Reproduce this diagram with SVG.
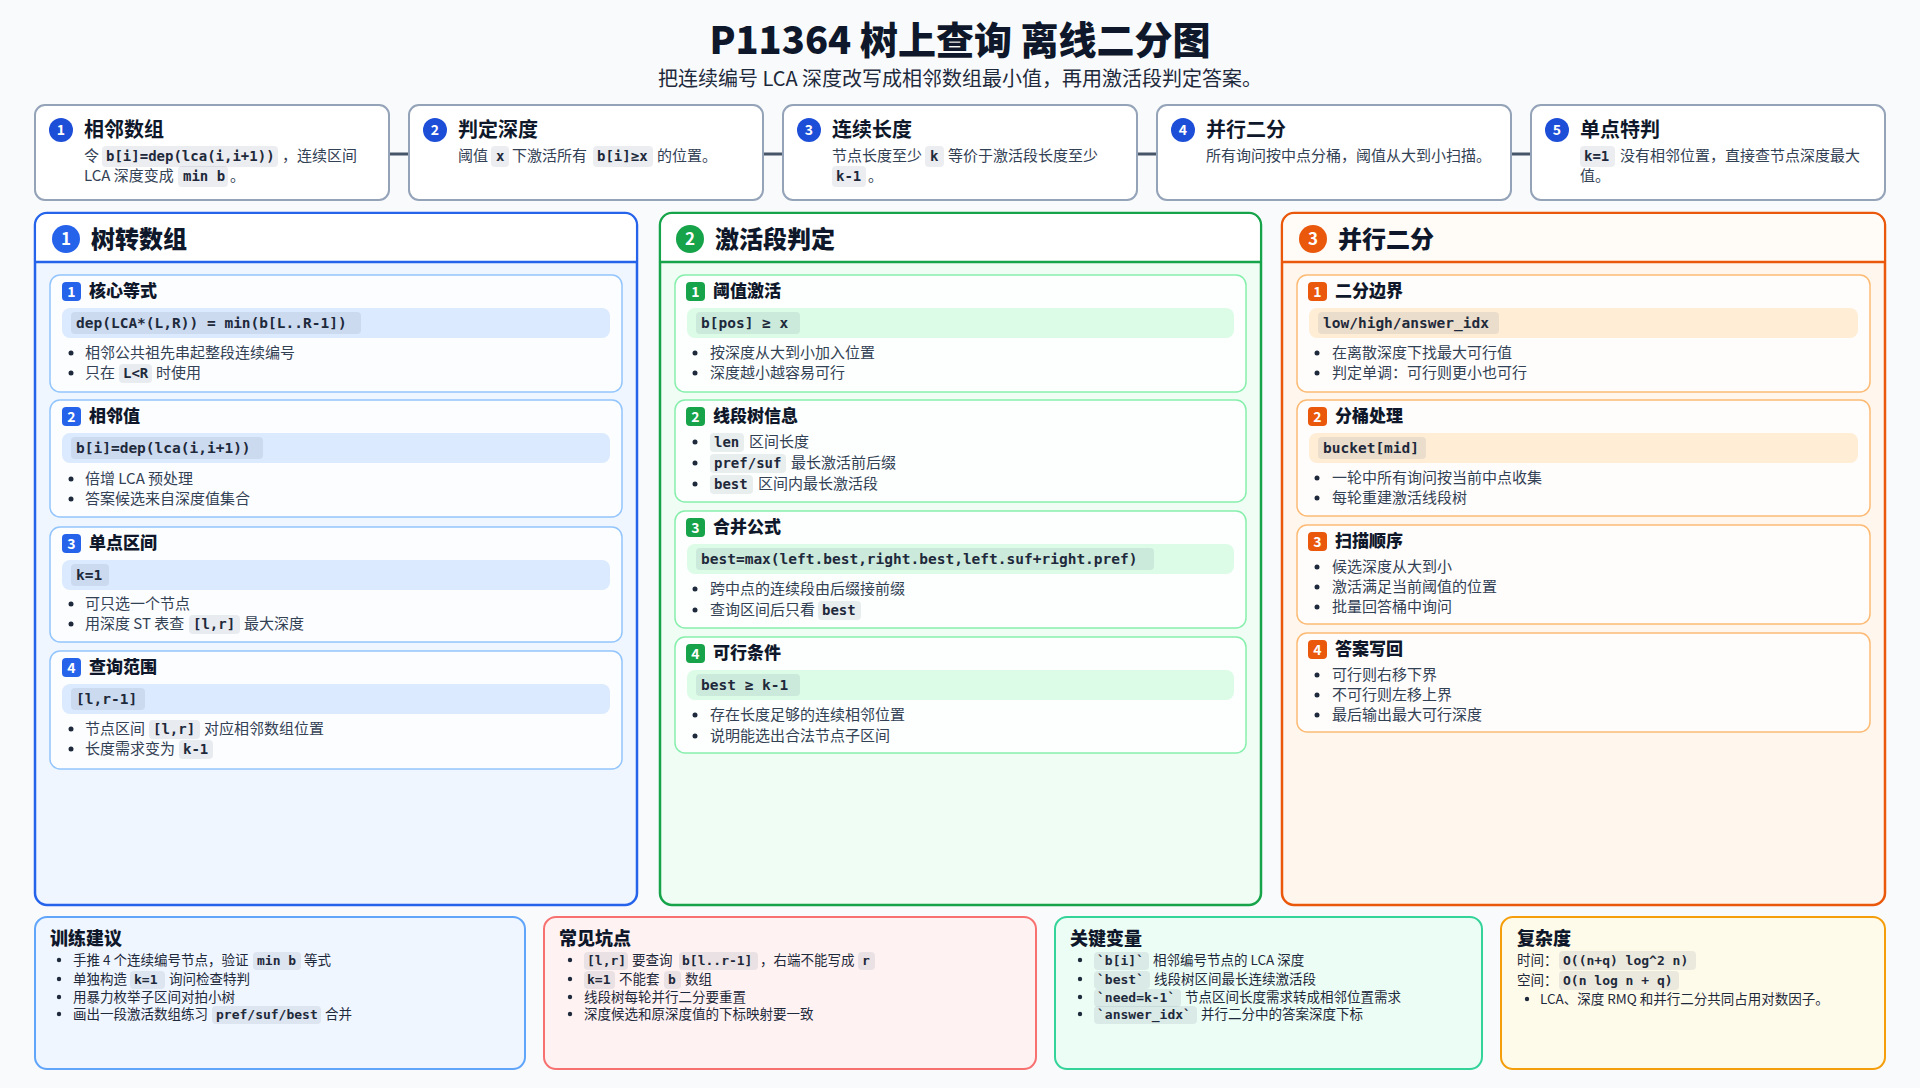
<svg xmlns="http://www.w3.org/2000/svg" width="1920" height="1088" viewBox="0 0 1920 1088">
<style>
text{font-family:"Noto Sans CJK SC","Noto Sans",sans-serif;fill:#1e293b}
.h1{font-size:38px;font-weight:800;fill:#0f172a}
.sub{font-size:20px;fill:#1e293b}
.ct{font-size:20px;font-weight:700;fill:#0f172a}
.b{font-size:15px;fill:#334155}
.m{font-family:"DejaVu Sans Mono","Liberation Mono",monospace;font-size:14px;font-weight:bold;fill:#1e293b}
.mb{font-family:"DejaVu Sans Mono","Liberation Mono",monospace;font-size:14.5px;font-weight:bold;fill:#1e293b}
.ms{font-family:"DejaVu Sans Mono","Liberation Mono",monospace;font-size:13px;font-weight:bold;fill:#1e293b}
.chip{fill:rgba(100,116,139,0.13)}
.num{font-size:14px;font-weight:700;fill:#fff;text-anchor:middle}
.pt{font-size:24px;font-weight:800;fill:#0f172a}
.st{font-size:17px;font-weight:800;fill:#0f172a}
.bt{font-size:18px;font-weight:800;fill:#0f172a}
.s{font-size:13.5px;fill:#1e293b}
.top{fill:#fff;stroke:#94a3b8;stroke-width:2}
.dot{fill:#1e293b}
</style>
<rect width="1920" height="1088" fill="#f8fafc"/>
<text class="h1" x="960" y="54" text-anchor="middle">P11364 树上查询 离线二分图</text>
<text class="sub" x="960" y="86" text-anchor="middle">把连续编号 LCA 深度改写成相邻数组最小值，再用激活段判定答案。</text>

<g id="connectors" stroke="#475569" stroke-width="3">
<line x1="389" y1="154" x2="409" y2="154"/>
<line x1="763" y1="154" x2="783" y2="154"/>
<line x1="1137" y1="154" x2="1157" y2="154"/>
<line x1="1511" y1="154" x2="1531" y2="154"/>
</g>

<g id="step1">
<rect class="top" x="35" y="105" width="354" height="95" rx="10"/>
<circle cx="61" cy="130" r="12" fill="#1d4ed8"/><text class="num" x="61" y="135">1</text>
<text class="ct" x="84" y="137">相邻数组</text>
<text class="b" x="84" y="161">令</text>
<rect class="chip" x="102" y="146" width="176" height="21" rx="4"/><text class="m" x="106" y="161">b[i]=dep(lca(i,i+1))</text>
<text class="b" x="282" y="161">，连续区间</text>
<text class="b" x="84" y="181">LCA 深度变成</text>
<rect class="chip" x="178" y="166" width="50" height="21" rx="4"/><text class="m" x="183" y="181">min b</text>
<text class="b" x="230" y="181">。</text>
</g>
<g id="step2">
<rect class="top" x="409" y="105" width="354" height="95" rx="10"/>
<circle cx="435" cy="130" r="12" fill="#1d4ed8"/><text class="num" x="435" y="135">2</text>
<text class="ct" x="458" y="137">判定深度</text>
<text class="b" x="458" y="161">阈值</text>
<rect class="chip" x="491" y="146" width="18" height="21" rx="4"/><text class="m" x="496" y="161">x</text>
<text class="b" x="512" y="161">下激活所有</text>
<rect class="chip" x="593" y="146" width="60" height="21" rx="4"/><text class="m" x="597" y="161">b[i]≥x</text>
<text class="b" x="657" y="161">的位置。</text>
</g>
<g id="step3">
<rect class="top" x="783" y="105" width="354" height="95" rx="10"/>
<circle cx="809" cy="130" r="12" fill="#1d4ed8"/><text class="num" x="809" y="135">3</text>
<text class="ct" x="832" y="137">连续长度</text>
<text class="b" x="832" y="161">节点长度至少</text>
<rect class="chip" x="925" y="146" width="19" height="21" rx="4"/><text class="m" x="930" y="161">k</text>
<text class="b" x="948" y="161">等价于激活段长度至少</text>
<rect class="chip" x="832" y="166" width="34" height="21" rx="4"/><text class="m" x="836" y="181">k-1</text>
<text class="b" x="868" y="181">。</text>
</g>
<g id="step4">
<rect class="top" x="1157" y="105" width="354" height="95" rx="10"/>
<circle cx="1183" cy="130" r="12" fill="#1d4ed8"/><text class="num" x="1183" y="135">4</text>
<text class="ct" x="1206" y="137">并行二分</text>
<text class="b" x="1206" y="161">所有询问按中点分桶，阈值从大到小扫描。</text>
</g>
<g id="step5">
<rect class="top" x="1531" y="105" width="354" height="95" rx="10"/>
<circle cx="1557" cy="130" r="12" fill="#1d4ed8"/><text class="num" x="1557" y="135">5</text>
<text class="ct" x="1580" y="137">单点特判</text>
<rect class="chip" x="1580" y="146" width="35" height="21" rx="4"/><text class="m" x="1584" y="161">k=1</text>
<text class="b" x="1620" y="161">没有相邻位置，直接查节点深度最大</text>
<text class="b" x="1580" y="181">值。</text>
</g>

<!-- Panel 1 -->
<g id="panel1">
<rect x="35" y="213" width="602" height="692" rx="12" fill="#eff6ff" stroke="#2563eb" stroke-width="2.5"/>
<path d="M36.2 262 V225 a11 11 0 0 1 11 -11 H624.8 a11 11 0 0 1 11 11 V262 Z" fill="#fff"/>
<line x1="35" y1="262" x2="637" y2="262" stroke="#2563eb" stroke-width="2.5"/>
<circle cx="66" cy="239" r="14" fill="#2563eb"/><text class="num" x="66" y="245" style="font-size:17px">1</text>
<text class="pt" x="91" y="248">树转数组</text>
<g fill="#fcfdff" stroke="#93c5fd" stroke-width="1.5">
<rect x="50" y="275" width="572" height="117" rx="10"/>
<rect x="50" y="400" width="572" height="117" rx="10"/>
<rect x="50" y="527" width="572" height="115" rx="10"/>
<rect x="50" y="651" width="572" height="118" rx="10"/>
</g>
<g fill="#dbeafe">
<rect x="62" y="308" width="548" height="30" rx="8"/>
<rect x="62" y="433" width="548" height="30" rx="8"/>
<rect x="62" y="560" width="548" height="30" rx="8"/>
<rect x="62" y="684" width="548" height="30" rx="8"/>
</g>
<g fill="#2563eb">
<rect x="62" y="282" width="19" height="19" rx="4"/>
<rect x="62" y="407" width="19" height="19" rx="4"/>
<rect x="62" y="534" width="19" height="19" rx="4"/>
<rect x="62" y="658" width="19" height="19" rx="4"/>
</g>
<text class="num" x="71.5" y="297">1</text><text class="num" x="71.5" y="422">2</text><text class="num" x="71.5" y="549">3</text><text class="num" x="71.5" y="673">4</text>
<text class="st" x="89" y="297">核心等式</text>
<text class="st" x="89" y="422">相邻值</text>
<text class="st" x="89" y="549">单点区间</text>
<text class="st" x="89" y="673">查询范围</text>
<rect class="chip" x="71" y="312" width="290" height="22" rx="4"/><text class="mb" x="76" y="328">dep(LCA*(L,R)) = min(b[L..R-1])</text>
<rect class="chip" x="71" y="437" width="192" height="22" rx="4"/><text class="mb" x="76" y="453">b[i]=dep(lca(i,i+1))</text>
<rect class="chip" x="71" y="564" width="38" height="22" rx="4"/><text class="mb" x="76" y="580">k=1</text>
<rect class="chip" x="71" y="688" width="74" height="22" rx="4"/><text class="mb" x="76" y="704">[l,r-1]</text>
<g class="dot"><circle cx="71" cy="353" r="2.5"/><circle cx="71" cy="373" r="2.5"/><circle cx="71" cy="479" r="2.5"/><circle cx="71" cy="499" r="2.5"/><circle cx="71" cy="604" r="2.5"/><circle cx="71" cy="624" r="2.5"/><circle cx="71" cy="729" r="2.5"/><circle cx="71" cy="749" r="2.5"/></g>
<text class="b" x="85" y="358">相邻公共祖先串起整段连续编号</text>
<text class="b" x="85" y="378">只在</text><rect class="chip" x="119" y="364" width="33" height="19" rx="4"/><text class="m" x="123" y="378">L&lt;R</text><text class="b" x="156" y="378">时使用</text>
<text class="b" x="85" y="484">倍增 LCA 预处理</text>
<text class="b" x="85" y="504">答案候选来自深度值集合</text>
<text class="b" x="85" y="609">可只选一个节点</text>
<text class="b" x="85" y="629">用深度 ST 表查</text><rect class="chip" x="189" y="615" width="51" height="19" rx="4"/><text class="m" x="193" y="629">[l,r]</text><text class="b" x="244" y="629">最大深度</text>
<text class="b" x="85" y="734">节点区间</text><rect class="chip" x="149" y="720" width="51" height="19" rx="4"/><text class="m" x="153" y="734">[l,r]</text><text class="b" x="204" y="734">对应相邻数组位置</text>
<text class="b" x="85" y="754">长度需求变为</text><rect class="chip" x="179" y="740" width="34" height="19" rx="4"/><text class="m" x="183" y="754">k-1</text>
</g>

<!-- Panel 2 -->
<g id="panel2">
<rect x="660" y="213" width="601" height="692" rx="12" fill="#f0fdf4" stroke="#16a34a" stroke-width="2.5"/>
<path d="M661.2 262 V225 a11 11 0 0 1 11 -11 H1248.8 a11 11 0 0 1 11 11 V262 Z" fill="#fff"/>
<line x1="660" y1="262" x2="1261" y2="262" stroke="#16a34a" stroke-width="2.5"/>
<circle cx="690" cy="239" r="14" fill="#16a34a"/><text class="num" x="690" y="245" style="font-size:17px">2</text>
<text class="pt" x="715" y="248">激活段判定</text>
<g fill="#fcfffd" stroke="#86efac" stroke-width="1.5">
<rect x="675" y="275" width="571" height="117" rx="10"/>
<rect x="675" y="400" width="571" height="102" rx="10"/>
<rect x="675" y="511" width="571" height="117" rx="10"/>
<rect x="675" y="637" width="571" height="116" rx="10"/>
</g>
<g fill="#dcfce7">
<rect x="687" y="308" width="547" height="30" rx="8"/>
<rect x="687" y="544" width="547" height="30" rx="8"/>
<rect x="687" y="670" width="547" height="30" rx="8"/>
</g>
<g fill="#16a34a">
<rect x="686" y="282" width="19" height="19" rx="4"/>
<rect x="686" y="407" width="19" height="19" rx="4"/>
<rect x="686" y="518" width="19" height="19" rx="4"/>
<rect x="686" y="644" width="19" height="19" rx="4"/>
</g>
<text class="num" x="695.5" y="297">1</text><text class="num" x="695.5" y="422">2</text><text class="num" x="695.5" y="533">3</text><text class="num" x="695.5" y="659">4</text>
<text class="st" x="713" y="297">阈值激活</text>
<text class="st" x="713" y="422">线段树信息</text>
<text class="st" x="713" y="533">合并公式</text>
<text class="st" x="713" y="659">可行条件</text>
<rect class="chip" x="696" y="312" width="104" height="22" rx="4"/><text class="mb" x="701" y="328">b[pos] ≥ x</text>
<rect class="chip" x="696" y="548" width="458" height="22" rx="4"/><text class="mb" x="701" y="564">best=max(left.best,right.best,left.suf+right.pref)</text>
<rect class="chip" x="696" y="674" width="104" height="22" rx="4"/><text class="mb" x="701" y="690">best ≥ k-1</text>
<g class="dot"><circle cx="695" cy="353" r="2.5"/><circle cx="695" cy="373" r="2.5"/><circle cx="695" cy="442" r="2.5"/><circle cx="695" cy="463" r="2.5"/><circle cx="695" cy="484" r="2.5"/><circle cx="695" cy="589" r="2.5"/><circle cx="695" cy="610" r="2.5"/><circle cx="695" cy="715" r="2.5"/><circle cx="695" cy="736" r="2.5"/></g>
<text class="b" x="710" y="358">按深度从大到小加入位置</text>
<text class="b" x="710" y="378">深度越小越容易可行</text>
<rect class="chip" x="710" y="433" width="34" height="19" rx="4"/><text class="m" x="714" y="447">len</text><text class="b" x="749" y="447">区间长度</text>
<rect class="chip" x="710" y="454" width="76" height="19" rx="4"/><text class="m" x="714" y="468">pref/suf</text><text class="b" x="791" y="468">最长激活前后缀</text>
<rect class="chip" x="710" y="475" width="43" height="19" rx="4"/><text class="m" x="714" y="489">best</text><text class="b" x="758" y="489">区间内最长激活段</text>
<text class="b" x="710" y="594">跨中点的连续段由后缀接前缀</text>
<text class="b" x="710" y="615">查询区间后只看</text><rect class="chip" x="818" y="601" width="43" height="19" rx="4"/><text class="m" x="822" y="615">best</text>
<text class="b" x="710" y="720">存在长度足够的连续相邻位置</text>
<text class="b" x="710" y="741">说明能选出合法节点子区间</text>
</g>

<!-- Panel 3 -->
<g id="panel3">
<rect x="1282" y="213" width="603" height="692" rx="12" fill="#fff7ed" stroke="#ea580c" stroke-width="2.5"/>
<path d="M1283.2 262 V225 a11 11 0 0 1 11 -11 H1872.8 a11 11 0 0 1 11 11 V262 Z" fill="#fffcf8"/>
<line x1="1282" y1="262" x2="1885" y2="262" stroke="#ea580c" stroke-width="2.5"/>
<circle cx="1313" cy="239" r="14" fill="#ea580c"/><text class="num" x="1313" y="245" style="font-size:17px">3</text>
<text class="pt" x="1338" y="248">并行二分</text>
<g fill="#fffdfb" stroke="#fdba74" stroke-width="1.5">
<rect x="1297" y="275" width="573" height="117" rx="10"/>
<rect x="1297" y="400" width="573" height="116" rx="10"/>
<rect x="1297" y="525" width="573" height="99" rx="10"/>
<rect x="1297" y="633" width="573" height="99" rx="10"/>
</g>
<g fill="#ffedd5">
<rect x="1309" y="308" width="549" height="30" rx="8"/>
<rect x="1309" y="433" width="549" height="30" rx="8"/>
</g>
<g fill="#ea580c">
<rect x="1308" y="282" width="19" height="19" rx="4"/>
<rect x="1308" y="407" width="19" height="19" rx="4"/>
<rect x="1308" y="532" width="19" height="19" rx="4"/>
<rect x="1308" y="640" width="19" height="19" rx="4"/>
</g>
<text class="num" x="1317.5" y="297">1</text><text class="num" x="1317.5" y="422">2</text><text class="num" x="1317.5" y="547">3</text><text class="num" x="1317.5" y="655">4</text>
<text class="st" x="1335" y="297">二分边界</text>
<text class="st" x="1335" y="422">分桶处理</text>
<text class="st" x="1335" y="547">扫描顺序</text>
<text class="st" x="1335" y="655">答案写回</text>
<rect class="chip" x="1318" y="312" width="181" height="22" rx="4"/><text class="mb" x="1323" y="328">low/high/answer_idx</text>
<rect class="chip" x="1318" y="437" width="108" height="22" rx="4"/><text class="mb" x="1323" y="453">bucket[mid]</text>
<g class="dot"><circle cx="1317" cy="353" r="2.5"/><circle cx="1317" cy="373" r="2.5"/><circle cx="1317" cy="478" r="2.5"/><circle cx="1317" cy="498" r="2.5"/><circle cx="1317" cy="567" r="2.5"/><circle cx="1317" cy="587" r="2.5"/><circle cx="1317" cy="607" r="2.5"/><circle cx="1317" cy="675" r="2.5"/><circle cx="1317" cy="695" r="2.5"/><circle cx="1317" cy="715" r="2.5"/></g>
<text class="b" x="1332" y="358">在离散深度下找最大可行值</text>
<text class="b" x="1332" y="378">判定单调：可行则更小也可行</text>
<text class="b" x="1332" y="483">一轮中所有询问按当前中点收集</text>
<text class="b" x="1332" y="503">每轮重建激活线段树</text>
<text class="b" x="1332" y="572">候选深度从大到小</text>
<text class="b" x="1332" y="592">激活满足当前阈值的位置</text>
<text class="b" x="1332" y="612">批量回答桶中询问</text>
<text class="b" x="1332" y="680">可行则右移下界</text>
<text class="b" x="1332" y="700">不可行则左移上界</text>
<text class="b" x="1332" y="720">最后输出最大可行深度</text>
</g>

<!-- Bottom boxes -->
<g id="tips">
<rect x="35" y="917" width="490" height="152" rx="12" fill="#eff6ff" stroke="#60a5fa" stroke-width="2"/>
<text class="bt" x="50" y="945">训练建议</text>
<g class="dot"><circle cx="59" cy="960" r="2.2"/><circle cx="59" cy="979" r="2.2"/><circle cx="59" cy="997" r="2.2"/><circle cx="59" cy="1014" r="2.2"/></g>
<text class="s" x="73" y="965">手推 4 个连续编号节点，验证</text><rect class="chip" x="253" y="952" width="48" height="18" rx="4"/><text class="ms" x="257" y="965">min b</text><text class="s" x="304" y="965">等式</text>
<text class="s" x="73" y="984">单独构造</text><rect class="chip" x="130" y="971" width="35" height="18" rx="4"/><text class="ms" x="134" y="984">k=1</text><text class="s" x="169" y="984">询问检查特判</text>
<text class="s" x="73" y="1002">用暴力枚举子区间对拍小树</text>
<text class="s" x="73" y="1019">画出一段激活数组练习</text><rect class="chip" x="212" y="1006" width="109" height="18" rx="4"/><text class="ms" x="216" y="1019">pref/suf/best</text><text class="s" x="325" y="1019">合并</text>
</g>
<g id="pitfalls">
<rect x="544" y="917" width="492" height="152" rx="12" fill="#fef2f2" stroke="#f87171" stroke-width="2"/>
<text class="bt" x="559" y="945">常见坑点</text>
<g class="dot"><circle cx="570" cy="960" r="2.2"/><circle cx="570" cy="979" r="2.2"/><circle cx="570" cy="997" r="2.2"/><circle cx="570" cy="1014" r="2.2"/></g>
<rect class="chip" x="584" y="952" width="44" height="18" rx="4"/><text class="ms" x="587" y="965">[l,r]</text><text class="s" x="632" y="965">要查询</text><rect class="chip" x="679" y="952" width="79" height="18" rx="4"/><text class="ms" x="682" y="965">b[l..r-1]</text><text class="s" x="760" y="965">，右端不能写成</text><rect class="chip" x="858" y="952" width="17" height="18" rx="4"/><text class="ms" x="862" y="965">r</text>
<rect class="chip" x="584" y="971" width="31" height="18" rx="4"/><text class="ms" x="587" y="984">k=1</text><text class="s" x="619" y="984">不能套</text><rect class="chip" x="664" y="971" width="17" height="18" rx="4"/><text class="ms" x="668" y="984">b</text><text class="s" x="685" y="984">数组</text>
<text class="s" x="584" y="1002">线段树每轮并行二分要重置</text>
<text class="s" x="584" y="1019">深度候选和原深度值的下标映射要一致</text>
</g>
<g id="vars">
<rect x="1055" y="917" width="427" height="152" rx="12" fill="#ecfdf5" stroke="#34d399" stroke-width="2"/>
<text class="bt" x="1070" y="945">关键变量</text>
<g class="dot"><circle cx="1080" cy="960" r="2.2"/><circle cx="1080" cy="979" r="2.2"/><circle cx="1080" cy="997" r="2.2"/><circle cx="1080" cy="1014" r="2.2"/></g>
<rect class="chip" x="1094" y="952" width="55" height="18" rx="4"/><text class="ms" x="1097" y="965">`b[i]`</text><text class="s" x="1153" y="965">相邻编号节点的 LCA 深度</text>
<rect class="chip" x="1094" y="971" width="56" height="18" rx="4"/><text class="ms" x="1097" y="984">`best`</text><text class="s" x="1154" y="984">线段树区间最长连续激活段</text>
<rect class="chip" x="1094" y="989" width="87" height="18" rx="4"/><text class="ms" x="1097" y="1002">`need=k-1`</text><text class="s" x="1185" y="1002">节点区间长度需求转成相邻位置需求</text>
<rect class="chip" x="1094" y="1006" width="103" height="18" rx="4"/><text class="ms" x="1097" y="1019">`answer_idx`</text><text class="s" x="1201" y="1019">并行二分中的答案深度下标</text>
</g>
<g id="complexity">
<rect x="1501" y="917" width="384" height="152" rx="12" fill="#fffbeb" stroke="#f59e0b" stroke-width="2"/>
<text class="bt" x="1517" y="945">复杂度</text>
<text class="s" x="1517" y="965">时间：</text><rect class="chip" x="1559" y="951" width="137" height="19" rx="4"/><text class="ms" x="1563" y="965">O((n+q) log^2 n)</text>
<text class="s" x="1517" y="985">空间：</text><rect class="chip" x="1559" y="971" width="120" height="19" rx="4"/><text class="ms" x="1563" y="985">O(n log n + q)</text>
<circle class="dot" cx="1527" cy="999" r="2.2"/>
<text class="s" x="1540" y="1004">LCA、深度 RMQ 和并行二分共同占用对数因子。</text>
</g>
</svg>
